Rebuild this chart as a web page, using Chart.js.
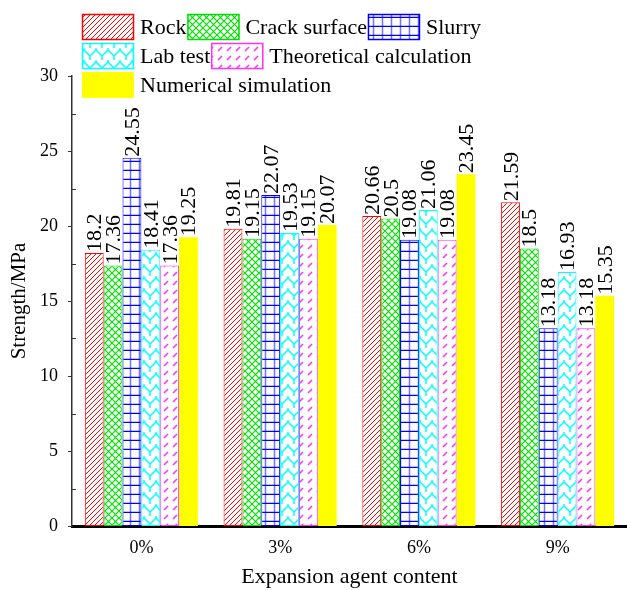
<!DOCTYPE html>
<html>
<head>
<meta charset="utf-8">
<script src="https://cdn.jsdelivr.net/npm/chart.js@4.4.0/dist/chart.umd.min.js"></script>
<style>
  html, body { margin: 0; padding: 0; background: #fff; }
  canvas { display: block; }
</style>
</head>
<body>
<canvas id="strengthBar" width="627" height="590"></canvas>
<script>
const strengthBar = document.querySelector("#strengthBar");

const categories = ["0%", "3%", "6%", "9%"];
const seriesNames = ["Rock", "Crack surface", "Slurry", "Lab test", "Theoretical calculation", "Numerical simulation"];
const rock = [18.2, 19.81, 20.66, 21.59];
const crackSurface = [17.36, 19.15, 20.5, 18.5];
const slurry = [24.55, 22.07, 19.08, 13.18];
const labTest = [18.41, 19.53, 21.06, 16.93];
const theoretical = [17.36, 19.15, 19.08, 13.18];
const numerical = [19.25, 20.07, 23.45, 15.35];
const yTicks = [0, 5, 10, 15, 20, 25, 30];

const serif = "'Liberation Serif', 'Times New Roman', serif";

// little tiles for the hatch fills
const makeTile = (w, h, draw) => {
  const c = document.createElement("canvas");
  c.width = w;
  c.height = h;
  const g = c.getContext("2d");
  g.fillStyle = "#fff";
  g.fillRect(0, 0, w, h);
  draw(g);
  return strengthBar.getContext("2d").createPattern(c, "repeat");
};

const rockFill = makeTile(5, 5, (g) => {
  g.strokeStyle = "#ff0000";
  g.lineWidth = 1;
  g.beginPath();
  g.moveTo(-1, 6); g.lineTo(6, -1);
  g.moveTo(-1, 1); g.lineTo(1, -1);
  g.moveTo(4, 6); g.lineTo(6, 4);
  g.stroke();
});

const crackFill = makeTile(7, 7, (g) => {
  g.strokeStyle = "#00e000";
  g.lineWidth = 1.2;
  g.beginPath();
  g.moveTo(0, 0); g.lineTo(7, 7);
  g.moveTo(7, 0); g.lineTo(0, 7);
  g.stroke();
});

const slurryFill = makeTile(9, 9, (g) => {
  g.strokeStyle = "#0000ff";
  g.lineWidth = 1.5;
  g.beginPath();
  g.moveTo(0, 8.5); g.lineTo(9, 8.5);
  g.stroke();
  g.strokeStyle = "rgba(0,0,255,0.55)";
  g.lineWidth = 1.5;
  g.beginPath();
  g.moveTo(4.5, 0); g.lineTo(4.5, 9);
  g.stroke();
});

const labFill = makeTile(12, 12, (g) => {
  g.strokeStyle = "#00ffff";
  g.lineWidth = 1.5;
  g.beginPath();
  g.moveTo(0, 2); g.lineTo(6, 8); g.lineTo(12, 2);
  g.moveTo(6, 8); g.lineTo(6, 12);
  g.moveTo(0, 0); g.lineTo(0, 2);
  g.moveTo(12, 0); g.lineTo(12, 2);
  g.stroke();
});

const theoFill = makeTile(9, 9, (g) => {
  g.strokeStyle = "#ff33ff";
  g.lineWidth = 1.6;
  g.beginPath();
  g.moveTo(2, 6); g.lineTo(6, 2);
  g.stroke();
});

const fills = [rockFill, crackFill, slurryFill, labFill, theoFill, "#ffff00"];
const edges = ["#ff0000", "#00dd00", "#0000ff", "#00ffff", "#ff33ff", "#ffff00"];
const seriesData = [rock, crackSurface, slurry, labTest, theoretical, numerical];

// rotated numbers sitting on top of each bar
const valueLabels = {
  id: "valueLabels",
  afterDatasetsDraw(chart) {
    const ctx = chart.ctx;
    ctx.save();
    ctx.fillStyle = "#000";
    ctx.font = "22px " + serif;
    ctx.textAlign = "left";
    ctx.textBaseline = "alphabetic";
    chart.data.datasets.forEach((ds, i) => {
      chart.getDatasetMeta(i).data.forEach((bar, j) => {
        ctx.save();
        ctx.translate(bar.x + 7, bar.y - 1);
        ctx.rotate(-Math.PI / 2);
        ctx.fillText(String(ds.data[j]), 0, 0);
        ctx.restore();
      });
    });
    ctx.restore();
  },
};

// tick marks: majors point out, minors point in
const axisTicks = {
  id: "axisTicks",
  afterDraw(chart) {
    const ctx = chart.ctx;
    const y = chart.scales.y;
    const left = chart.chartArea.left;
    ctx.save();
    ctx.strokeStyle = "#333";
    ctx.lineWidth = 1;
    ctx.beginPath();
    yTicks.forEach((v) => {
      const py = Math.round(y.getPixelForValue(v)) + 0.5;
      ctx.moveTo(left - 4, py); ctx.lineTo(left, py);
      if (v < 30) {
        const pm = Math.round(y.getPixelForValue(v + 2.5)) + 0.5;
        ctx.moveTo(left, pm); ctx.lineTo(left + 4, pm);
      }
    });
    ctx.stroke();
    ctx.restore();
  },
};

// legend in three rows over the top of the plot
const legendRows = [[0, 1, 2], [3, 4], [5]];
const boxLegend = {
  id: "boxLegend",
  afterDraw(chart) {
    const ctx = chart.ctx;
    ctx.save();
    ctx.font = "22px " + serif;
    ctx.textBaseline = "middle";
    ctx.fillStyle = "#000";
    legendRows.forEach((row, r) => {
      let x = 82;
      const top = 14 + r * 29;
      row.forEach((i) => {
        const ds = chart.data.datasets[i];
        ctx.fillStyle = ds.backgroundColor;
        ctx.fillRect(x, top, 52, 26);
        if (ds.borderWidth > 0) {
          ctx.strokeStyle = ds.borderColor;
          ctx.lineWidth = 1.5;
          ctx.strokeRect(x + 0.5, top + 0.5, 51, 25);
        }
        ctx.fillStyle = "#000";
        ctx.fillText(ds.label, x + 58, top + 14);
        x = x + 58 + ctx.measureText(ds.label).width + 1;
      });
    });
    ctx.restore();
  },
};

new Chart(strengthBar, {
  type: "bar",
  data: {
    labels: categories,
    datasets: seriesNames.map((name, i) => ({
      label: name,
      data: seriesData[i],
      backgroundColor: fills[i],
      borderColor: edges[i],
      borderWidth: i === 5 ? 0 : 1,
      borderSkipped: false,
      categoryPercentage: 0.815,
      barPercentage: 1,
    })),
  },
  options: {
    responsive: false,
    animation: false,
    layout: { padding: { top: 76, right: 0, left: 0, bottom: 0 } },
    plugins: {
      legend: { display: false },
      tooltip: { enabled: false },
    },
    scales: {
      x: {
        grid: { display: false },
        border: { display: true, color: "#000", width: 3 },
        ticks: { color: "#000", font: { family: serif, size: 18 }, padding: 3 },
        title: {
          display: true,
          text: "Expansion agent content",
          color: "#000",
          font: { family: serif, size: 22 },
          padding: { top: 0, bottom: 0 },
        },
        afterFit: (scale) => { scale.height = 64; },
      },
      y: {
        min: 0,
        max: 30,
        grid: { display: false },
        border: { display: true, color: "#333", width: 1.5 },
        ticks: {
          stepSize: 5,
          color: "#000",
          font: { family: serif, size: 18 },
          padding: 6,
        },
        title: {
          display: true,
          text: "Strength/MPa",
          color: "#000",
          font: { family: serif, size: 21 },
          padding: { top: 7, bottom: 0 },
        },
        afterFit: (scale) => { scale.width = 72; },
      },
    },
  },
  plugins: [valueLabels, axisTicks, boxLegend],
});
</script>
</body>
</html>
